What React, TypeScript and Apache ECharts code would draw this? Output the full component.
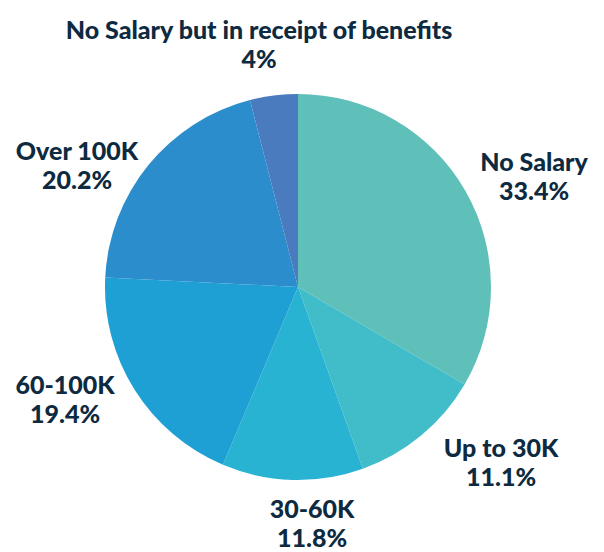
import React, { useEffect, useRef } from "react";
import * as echarts from "echarts";

const categories = [
  "No Salary",
  "Up to 30K",
  "30-60K",
  "60-100K",
  "Over 100K",
  "No Salary but in receipt of benefits",
];
const values = [33.4, 11.1, 11.8, 19.4, 20.2, 4];
const valueLabels = ["33.4%", "11.1%", "11.8%", "19.4%", "20.2%", "4%"];
const colors = ["#5FBFB9", "#40BDC9", "#28B3D3", "#1EA0D4", "#2B8DCB", "#4A7BBF"];
const labelCenters: [number, number][] = [
  [534, 175],
  [501, 461],
  [312, 522],
  [65, 398],
  [77, 164],
  [259, 43],
];

export default function App() {
  const ref = useRef<HTMLDivElement>(null);
  useEffect(() => {
    if (!ref.current) return;
    const chart = echarts.init(ref.current, undefined, { renderer: "svg" });
    chart.setOption({
      animation: false,
      backgroundColor: "#ffffff",
      series: [
        {
          type: "pie",
          center: [298, 287],
          radius: 193,
          startAngle: 90,
          clockwise: true,
          data: categories.map((name, i) => ({
            name,
            value: values[i],
            itemStyle: { color: colors[i] },
          })),
          itemStyle: { borderWidth: 0 },
          label: {
            show: true,
            position: "outside",
            formatter: (p: any) => `${p.name}\n${valueLabels[p.dataIndex]}`,
            fontFamily: "Lato",
            fontWeight: 900,
            fontSize: 25,
            lineHeight: 29,
            color: "#0D2A40",
            align: "center",
            overflow: "none",
            width: 600,
          },
          labelLine: { show: false },
          labelLayout: (params: any) => {
            const c = labelCenters[params.dataIndex];
            return {
              x: c[0],
              y: c[1],
              align: "center",
              verticalAlign: "middle",
              hideOverlap: false,
            };
          },
          emphasis: { disabled: true },
        },
      ],
    });
    return () => chart.dispose();
  }, []);
  return (
    <div
      ref={ref}
      style={{ position: "fixed", left: 0, top: 0, width: 604, height: 552 }}
    />
  );
}
